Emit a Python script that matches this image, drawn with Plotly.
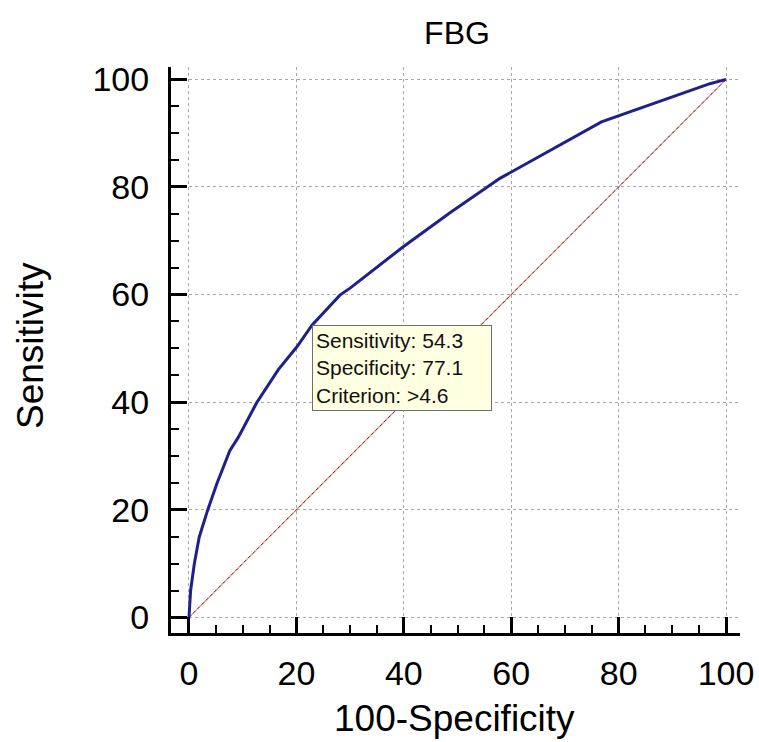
import plotly.graph_objects as go

# ROC curve points (100-Specificity, Sensitivity)
fpr = [0, 0.3, 1.0, 1.9, 3.4, 5.2, 7.6, 9.2, 12.6, 16.6, 20.1, 22.9, 28.1, 30.0, 39.9, 48.6, 57.9, 76.8, 97, 100]
sens = [0, 5, 10, 14.9, 19.7, 24.9, 31, 33.5, 39.9, 46, 50.3, 54.3, 59.9, 61.2, 68.9, 75.2, 81.6, 92.1, 99.2, 100]
diag = [0, 100]
tick_vals = [0, 20, 40, 60, 80, 100]
crit_x = 22.9
crit_y = 54.3
crit_text = "Sensitivity: 54.3<br>Specificity: 77.1<br>Criterion: &gt;4.6"

FONT = "Liberation Sans, Arial, sans-serif"

W, H = 759, 742
L, R, T, B = 171, 740, 67, 633
PW, PH = R - L, B - T

fig = go.Figure()
fig.add_trace(go.Scatter(x=diag, y=diag, mode="lines",
                         line=dict(color="#d89090", width=1.2), hoverinfo="skip"))
fig.add_trace(go.Scatter(x=diag, y=diag, mode="lines",
                         line=dict(color="#7a3030", width=1, dash="dot"), hoverinfo="skip"))
fig.add_trace(go.Scatter(x=fpr, y=sens, mode="lines",
                         line=dict(color="#20208a", width=3)))

axis_common = dict(
    tickvals=tick_vals,
    automargin=False,
    showgrid=True, gridcolor="#a8a8a8", griddash="dot", gridwidth=1,
    zeroline=False,
    showline=True, linecolor="black", linewidth=3,
    ticks="inside", ticklen=16, tickwidth=2.5, tickcolor="black",
    minor=dict(dtick=5, ticks="inside", ticklen=8, tickwidth=2, tickcolor="black", showgrid=False),
    tickfont=dict(family=FONT, size=34, color="black"),
)

fig.update_layout(
    width=W, height=H,
    margin=dict(l=L, r=W - R, t=T, b=H - B),
    plot_bgcolor="white", paper_bgcolor="white",
    showlegend=False,
    title=dict(text="FBG", x=(457 - L) / PW, xanchor="center", xref="paper",
               y=1 - 33 / H, yanchor="middle",
               font=dict(family=FONT, size=32, color="black")),
    xaxis=dict(range=[-3.35, 102.6], ticklabelstandoff=8, **axis_common),
    yaxis=dict(range=[-2.9, 102.3], ticklabelstandoff=12, **axis_common),
)

# axis titles
fig.add_annotation(text="100-Specificity", xref="paper", yref="paper",
                   x=(454 - L) / PW, y=(B - 718) / PH, xanchor="center", yanchor="middle",
                   showarrow=False, font=dict(family=FONT, size=37, color="black"))
fig.add_annotation(text="Sensitivity", xref="paper", yref="paper", textangle=-90,
                   x=(30 - L) / PW, y=(B - 346) / PH, xanchor="center", yanchor="middle",
                   showarrow=False, font=dict(family=FONT, size=37, color="black"))

fig.add_annotation(x=crit_x, y=crit_y, xref="x", yref="y",
                   text=crit_text, showarrow=False, align="left",
                   xanchor="left", yanchor="top",
                   width=172, borderpad=3,
                   bgcolor="#ffffe1", bordercolor="#707070", borderwidth=1,
                   font=dict(family=FONT, size=21, color="#111111"))

fig.write_html("out.html",
               config={"displayModeBar": False},
               post_script="document.body.style.margin='0';document.body.style.overflow='hidden';")
